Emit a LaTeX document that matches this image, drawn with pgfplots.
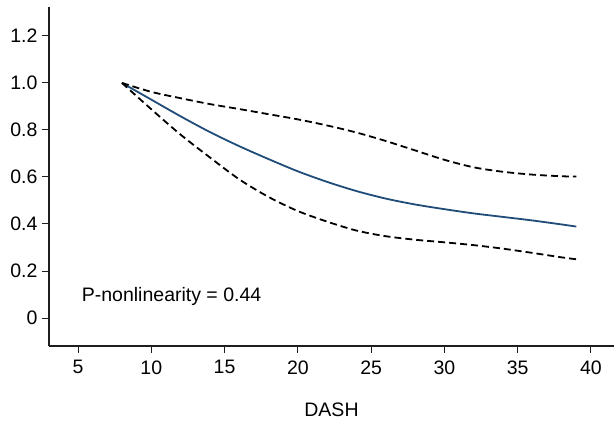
\documentclass[border=0pt]{standalone}
\usepackage{fontspec}
\setmainfont{Liberation Sans}
\usepackage{pgfplots}
\pgfplotsset{compat=1.18}
\definecolor{fitblue}{RGB}{31,76,120}
\definecolor{axisgray}{RGB}{30,30,30}
\begin{document}
\begin{tikzpicture}
\begin{axis}[
  scale only axis,
  width=565pt, height=339pt,
  xmin=3.02, xmax=41.57,
  ymin=-0.119, ymax=1.323,
  axis x line*=bottom, axis y line*=left,
  axis line style={axisgray, line width=1.1pt, -},
  tick align=outside,
  major tick length=7pt,
  tick style={axisgray, line width=1pt},
  xtick={5,10,15,20,25,30,35,40},
  ytick={0,0.2,0.4,0.6,0.8,1.0,1.2},
  yticklabels={0,0.2,0.4,0.6,0.8,1.0,1.2},
  /pgf/number format/assume math mode=true,
  tick label style={font=\fontsize{19.5}{23}\selectfont, text=black},
  xticklabel style={yshift=-4pt},
  yticklabel style={xshift=-1pt},
  xlabel={DASH},
  xlabel style={font=\fontsize{19.5}{23}\selectfont, at={(axis description cs:0.5,0)}, anchor=center, yshift=-64pt},
  clip=false,
]
\addplot[fitblue, line width=1.8pt, smooth] coordinates {
(8,1.0)(10,0.929)(12,0.858)(14,0.791)(16,0.731)(18,0.676)(20,0.624)(22,0.579)(24,0.54)(26,0.508)(28,0.483)(30,0.463)(32,0.445)(34,0.43)(36,0.415)(38,0.398)(39,0.389)};
\addplot[black, line width=1.8pt, dash pattern=on 7pt off 4pt, smooth] coordinates {
(8,1.0)(10,0.962)(12,0.935)(14,0.91)(16,0.889)(18,0.867)(20,0.845)(22,0.819)(24,0.789)(26,0.753)(28,0.713)(30,0.673)(32,0.641)(34,0.622)(36,0.61)(38,0.603)(39,0.602)};
\addplot[black, line width=1.8pt, dash pattern=on 7pt off 4pt, smooth] coordinates {
(8,1.0)(10,0.888)(12,0.78)(14,0.683)(16,0.59)(18,0.515)(20,0.455)(22,0.41)(24,0.372)(26,0.348)(28,0.333)(30,0.322)(32,0.31)(34,0.295)(36,0.277)(38,0.258)(39,0.25)};
\node[anchor=west, inner sep=0pt, font=\fontsize{19.5}{23}\selectfont] at (axis cs:5.25,0.09) {P-nonlinearity = 0.44};
\end{axis}
\path ([xshift=-49pt,yshift=-77pt]current axis.south west) rectangle ([xshift=2pt,yshift=7pt]current axis.north east);
\end{tikzpicture}
\end{document}
